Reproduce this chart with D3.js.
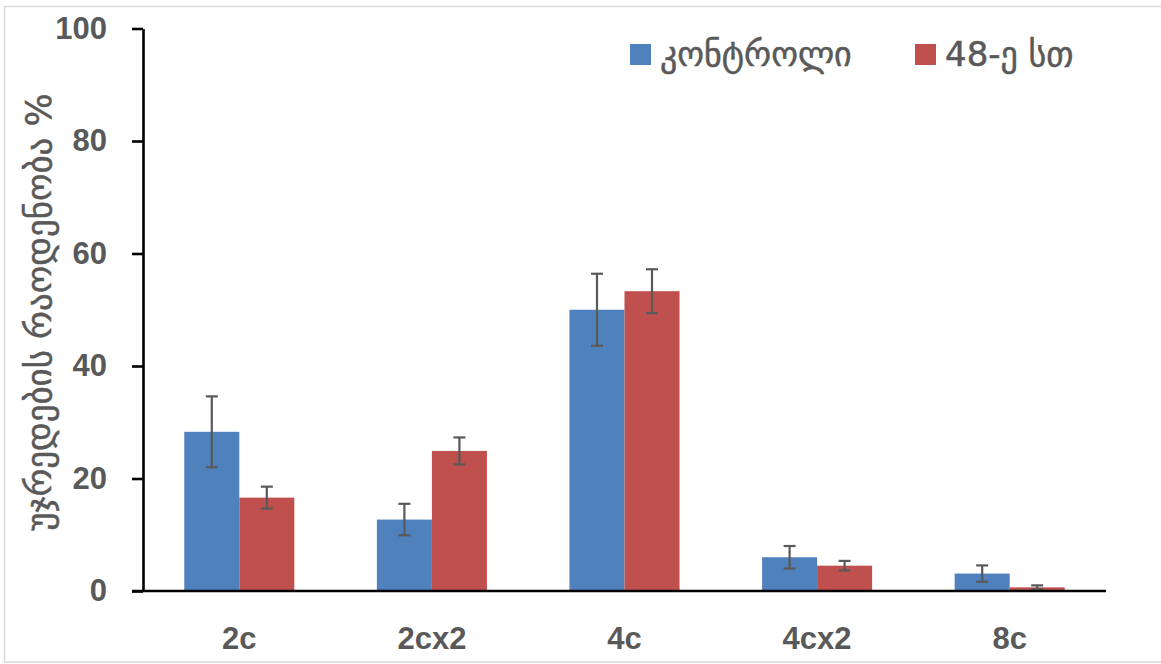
<!DOCTYPE html>
<html>
<head>
<meta charset="utf-8">
<script src="https://cdn.jsdelivr.net/npm/d3@7"></script>
<style>
  body { margin: 0; background: #fff; }
  svg { display: block; }
</style>
</head>
<body>
<div id="chart"></div>
<script>
// values
var categories = ['2c', '2cx2', '4c', '4cx2', '8c'];
var seriesNames = ['კონტროლი', '48-ე სთ'];
var controlValues = [28.3, 12.7, 50.0, 6.0, 3.1];
var controlErrors = [6.3, 2.8, 6.4, 2.0, 1.45];
var hourValues = [16.6, 24.9, 53.3, 4.5, 0.65];
var hourErrors = [1.95, 2.4, 3.9, 0.85, 0.35];
var yTicks = [0, 20, 40, 60, 80, 100];
var colors = ['#4f81bd', '#c0504d'];

var width = 1161, height = 664;
var margin = { left: 143, right: 55, top: 28.5, bottom: 73 };

var svg = d3.select('#chart').append('svg')
  .attr('width', width)
  .attr('height', height);

// chart frame
svg.append('rect')
  .attr('x', 4.5).attr('y', 6.5)
  .attr('width', 1180).attr('height', 655.5)
  .style('fill', 'none')
  .style('stroke', '#d9d9d9')
  .style('stroke-width', 1.5);

var x = d3.scaleBand()
  .domain(categories)
  .range([margin.left, width - margin.right])
  .paddingInner(0.4286)
  .paddingOuter(0.2143);

var y = d3.scaleLinear()
  .domain([0, 100])
  .range([height - margin.bottom, margin.top]);

var x1 = d3.scaleBand()
  .domain([0, 1])
  .range([0, x.bandwidth()]);

var rows = categories.map(function (c, i) {
  return {
    cat: c,
    bars: [
      { s: 0, v: controlValues[i], e: controlErrors[i] },
      { s: 1, v: hourValues[i], e: hourErrors[i] }
    ]
  };
});

var groups = svg.selectAll('g.group')
  .data(rows)
  .enter()
  .append('g')
  .classed('group', true)
  .attr('transform', function (d) { return 'translate(' + x(d.cat) + ',0)'; });

groups.selectAll('rect')
  .data(function (d) { return d.bars; })
  .enter()
  .append('rect')
  .attr('x', function (d) { return x1(d.s); })
  .attr('width', x1.bandwidth())
  .attr('y', function (d) { return y(d.v); })
  .attr('height', function (d) { return y(0) - y(d.v); })
  .style('fill', function (d) { return colors[d.s]; });

// error bars
var errs = groups.selectAll('g.err')
  .data(function (d) { return d.bars; })
  .enter()
  .append('g')
  .classed('err', true)
  .style('stroke', '#595959')
  .style('stroke-width', 2.2);

errs.append('line')
  .attr('x1', function (d) { return x1(d.s) + x1.bandwidth() / 2; })
  .attr('x2', function (d) { return x1(d.s) + x1.bandwidth() / 2; })
  .attr('y1', function (d) { return y(d.v + d.e); })
  .attr('y2', function (d) { return y(Math.max(0, d.v - d.e)); });

errs.selectAll('line.cap')
  .data(function (d) { return [d.v + d.e, d.v - d.e].map(function (t) { return { s: d.s, t: t }; }); })
  .enter()
  .append('line')
  .classed('cap', true)
  .attr('x1', function (d) { return x1(d.s) + x1.bandwidth() / 2 - 6; })
  .attr('x2', function (d) { return x1(d.s) + x1.bandwidth() / 2 + 6; })
  .attr('y1', function (d) { return y(d.t); })
  .attr('y2', function (d) { return y(d.t); });

// axes
var yAxis = svg.append('g')
  .attr('transform', 'translate(' + margin.left + ',0)')
  .call(d3.axisLeft(y).tickValues(yTicks).tickSize(11).tickSizeOuter(0).tickPadding(25));

var xAxis = svg.append('g')
  .attr('transform', 'translate(0,' + y(0) + ')')
  .call(d3.axisBottom(x).tickSize(0).tickPadding(36));

[yAxis, xAxis].forEach(function (a) {
  a.selectAll('path, line').style('stroke', '#000').style('stroke-width', 2.6);
  a.selectAll('text')
    .style('font-family', '"Liberation Sans", Arial, sans-serif')
    .style('font-weight', 'bold')
    .style('font-size', '31px')
    .style('fill', '#595959');
});
xAxis.select('path.domain').attr('d', 'M' + (margin.left - 11) + ',0H' + (width - margin.right));

// y axis title
svg.append('text')
  .attr('transform', 'translate(51,' + 312 + ') rotate(-90)')
  .attr('text-anchor', 'middle')
  .style('font-family', '"DejaVu Sans", sans-serif')
  .style('font-size', '35px')
  .style('fill', '#595959')
  .style('stroke', '#595959')
  .style('stroke-width', 0.5)
  .text('უჯრედების  რაოდენობა %');

// legend
var legendX = [630, 915];
var legend = svg.selectAll('g.legend')
  .data(seriesNames)
  .enter()
  .append('g')
  .classed('legend', true)
  .attr('transform', function (d, i) { return 'translate(' + legendX[i] + ',44)'; });

legend.append('rect')
  .attr('width', 21).attr('height', 21)
  .style('fill', function (d, i) { return colors[i]; });

legend.append('text')
  .attr('x', 30)
  .attr('y', 22)
  .style('font-family', '"DejaVu Sans", sans-serif')
  .style('font-size', '34px')
  .style('fill', '#595959')
  .style('stroke', '#595959')
  .style('stroke-width', 0.5)
  .text(function (d) { return d; });
</script>
</body>
</html>
